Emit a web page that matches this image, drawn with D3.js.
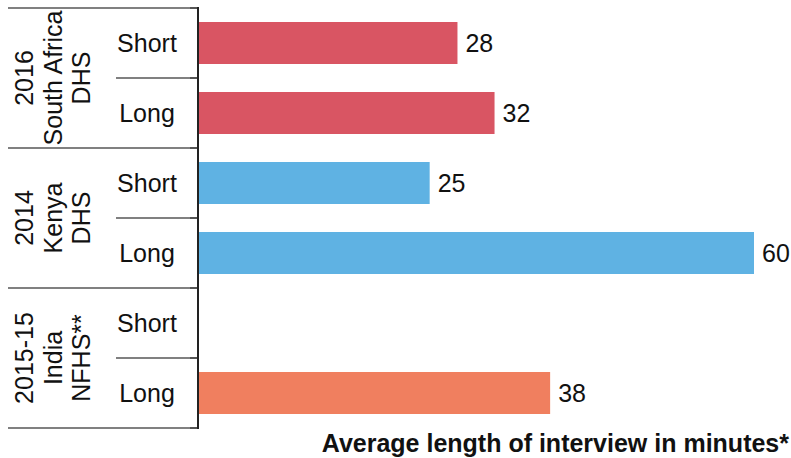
<!DOCTYPE html>
<html>
<head>
<meta charset="utf-8">
<script src="https://cdn.jsdelivr.net/npm/d3@7"></script>
<style>
  html, body { margin: 0; padding: 0; background: #fff; }
  text { font-family: "Liberation Sans", Arial, sans-serif; fill: #111; }
</style>
</head>
<body>
<svg id="chart" width="791" height="458"></svg>
<script>
// ---- data ----
const surveys = ["2016 South Africa DHS", "2014 Kenya DHS", "2015-15 India NFHS**"];
const surveyLines = [["2016", "South Africa", "DHS"], ["2014", "Kenya", "DHS"], ["2015-15", "India", "NFHS**"]];
const lengths = ["Short", "Long"];
const shortMinutes = [28, 25, null];
const longMinutes = [32, 60, 38];
const colors = ["#D95563", "#5FB2E3", "#F07F5F"];
const axisTitle = "Average length of interview in minutes*";

// ---- build rows ----
const rows = [];
surveys.forEach((s, i) => {
  rows.push({ survey: s, gi: i, len: lengths[0], key: s + "|Short", value: shortMinutes[i] });
  rows.push({ survey: s, gi: i, len: lengths[1], key: s + "|Long", value: longMinutes[i] });
});

const svg = d3.select("#chart");
const plotTop = 8, plotBottom = 428, axisX = 198, leftX = 8, innerX = 116;
const fs = 25;

const yRow = d3.scaleBand().domain(rows.map(d => d.key)).range([plotTop, plotBottom]);
const yBar = d3.scaleBand().domain(rows.map(d => d.key)).range([plotTop, plotBottom]).paddingInner(0.4).paddingOuter(0.2);
const yGroup = d3.scaleBand().domain(surveys).range([plotTop, plotBottom]);
const x = d3.scaleLinear().domain([0, 60]).range([axisX, 754]);

// separators
const g = svg.append("g");
const groupEdges = surveys.map(s => yGroup(s)).concat([plotBottom]);
groupEdges.forEach(yv => {
  g.append("line").attr("x1", leftX).attr("x2", axisX - 8).attr("y1", yv).attr("y2", yv)
    .attr("stroke", "#808080").attr("stroke-width", 2);
  g.append("line").attr("x1", axisX - 8).attr("x2", axisX).attr("y1", yv).attr("y2", yv)
    .attr("stroke", "#555").attr("stroke-width", 2);
});
rows.filter(d => d.len === "Long").forEach(d => {
  const yv = yRow(d.key);
  g.append("line").attr("x1", innerX).attr("x2", axisX - 8).attr("y1", yv).attr("y2", yv)
    .attr("stroke", "#808080").attr("stroke-width", 2);
  g.append("line").attr("x1", axisX - 8).attr("x2", axisX).attr("y1", yv).attr("y2", yv)
    .attr("stroke", "#555").attr("stroke-width", 2);
});

// bars
svg.append("g").selectAll("rect")
  .data(rows.filter(d => d.value != null))
  .join("rect")
  .attr("x", x(0))
  .attr("y", d => yBar(d.key))
  .attr("width", d => x(d.value) - x(0))
  .attr("height", yBar.bandwidth())
  .attr("fill", d => colors[d.gi]);

// value labels
svg.append("g").selectAll("text")
  .data(rows.filter(d => d.value != null))
  .join("text")
  .attr("x", d => x(d.value) + 8)
  .attr("y", d => yRow(d.key) + yRow.bandwidth() / 2 + 9)
  .attr("font-size", fs)
  .text(d => d.value);

// row labels
svg.append("g").selectAll("text")
  .data(rows)
  .join("text")
  .attr("x", 147)
  .attr("y", d => yRow(d.key) + yRow.bandwidth() / 2 + 9)
  .attr("text-anchor", "middle")
  .attr("font-size", fs)
  .text(d => d.len);

// group labels (rotated)
const lineBase = [33, 62, 90];
surveys.forEach((s, i) => {
  const cy = yGroup(s) + yGroup.bandwidth() / 2;
  const t = svg.append("text")
    .attr("transform", `translate(0,${cy}) rotate(-90)`)
    .attr("text-anchor", "middle")
    .attr("font-size", fs);
  surveyLines[i].forEach((ln, j) => {
    t.append("tspan").attr("x", 0).attr("y", lineBase[j]).text(ln);
  });
});

// axis line
svg.append("line").attr("x1", axisX).attr("x2", axisX).attr("y1", plotTop - 1).attr("y2", plotBottom + 1)
  .attr("stroke", "#222").attr("stroke-width", 2);

// axis title
svg.append("text")
  .attr("x", 789).attr("y", 452)
  .attr("text-anchor", "end")
  .attr("font-size", 25)
  .attr("font-weight", "bold")
  .text(axisTitle);
</script>
</body>
</html>
